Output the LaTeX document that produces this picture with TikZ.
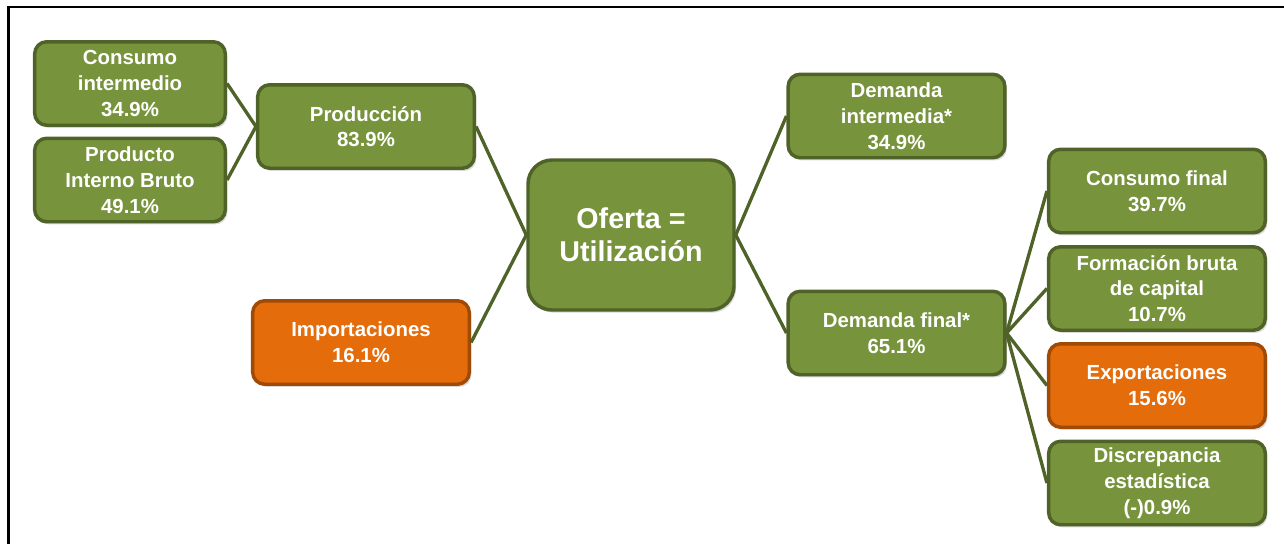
\documentclass[tikz,border=0pt]{standalone}
\usepackage{fontspec}
\setmainfont{Liberation Sans}
\usetikzlibrary{shadows}
\definecolor{verde}{HTML}{77933C}
\definecolor{verdeosc}{HTML}{4F6228}
\definecolor{naranja}{HTML}{E46C0A}
\definecolor{naranjaosc}{HTML}{A04A08}
\begin{document}
\begin{tikzpicture}[x=0.75pt,y=-0.75pt,
	caja/.style={rectangle,rounded corners=9pt,draw=verdeosc,fill=verde,line width=2.6pt,
		text=white,font=\bfseries\fontsize{15.3}{19.3}\selectfont,align=center,inner sep=0pt,
		minimum width=162.5pt,minimum height=62.6pt,
		drop shadow={shadow xshift=1.5pt,shadow yshift=-2pt,opacity=.3}},
	cajaizq/.style={caja,minimum width=143pt},
	cajanar/.style={caja,draw=naranjaosc,fill=naranja},
	enlace/.style={draw=verdeosc,line width=2.5pt}]
	\useasboundingbox (0,0) rectangle (1284,544);
	% marco
	\draw[line width=2.2pt] (1284,7) -- (8.5,7) -- (8.5,544);
	% cajas
	\node[cajaizq] (ci) at (130,83.5) {Consumo\\intermedio\\34.9\%};
	\node[cajaizq] (pib) at (130,180) {Producto\\Interno Bruto\\49.1\%};
	\node[caja] (prod) at (366,126.5) {Producción\\83.9\%};
	\node[cajanar] (imp) at (361,342.5) {Importaciones\\16.1\%};
	\node[caja,rounded corners=18pt,minimum width=154.5pt,minimum height=112.5pt,
		font=\bfseries\fontsize{21.5}{25}\selectfont] (of) at (631,235) {Oferta =\\Utilización};
	\node[caja] (di) at (896.5,116) {Demanda\\intermedia*\\34.9\%};
	\node[caja] (df) at (896.5,333) {Demanda final*\\65.1\%};
	\node[caja] (cf) at (1157,191) {Consumo final\\39.7\%};
	\node[caja] (fbk) at (1157,288.5) {Formación bruta\\de capital\\10.7\%};
	\node[cajanar] (exp) at (1157,385.5) {Exportaciones\\15.6\%};
	\node[caja] (disc) at (1157,483) {Discrepancia\\estadística\\(-)0.9\%};
	% enlaces
	\draw[enlace] (ci.east) -- (prod.west);
	\draw[enlace] (pib.east) -- (prod.west);
	\draw[enlace] (prod.east) -- (of.west);
	\draw[enlace] (imp.east) -- (of.west);
	\draw[enlace] (of.east) -- (di.west);
	\draw[enlace] (of.east) -- (df.west);
	\foreach \n in {cf,fbk,exp,disc}
		\draw[enlace] (df.east) -- (\n.west);
\end{tikzpicture}
\end{document}
